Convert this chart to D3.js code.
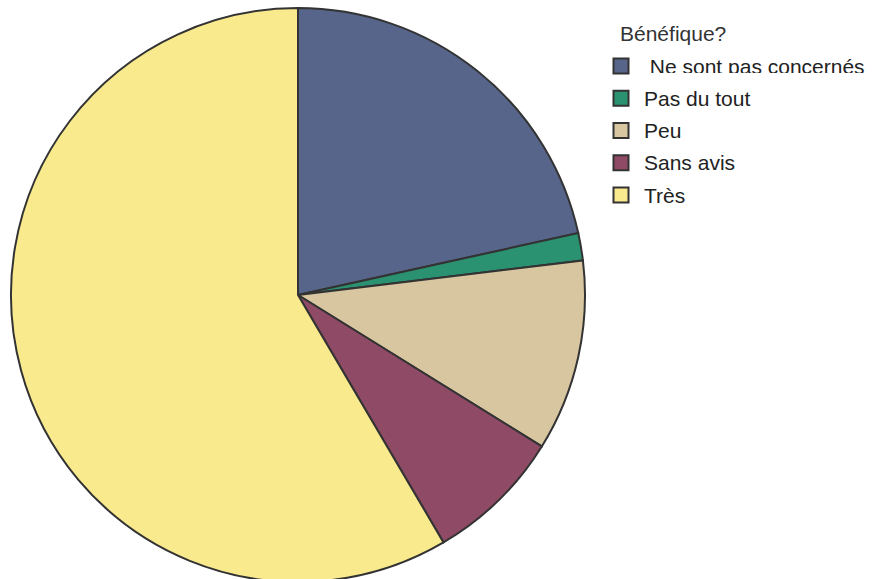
<!DOCTYPE html>
<html>
<head>
<meta charset="utf-8">
<script src="https://cdn.jsdelivr.net/npm/d3@7"></script>
<style>
  body { margin: 0; background: #fff; }
  text { font-family: "Liberation Sans", Arial, sans-serif; }
</style>
</head>
<body>
<div id="chart"></div>
<script>
// data
var categories = [" Ne sont pas concernés", "Pas du tout", "Peu", "Sans avis", "Très"];
var values = [14, 1, 7, 5, 38];
var colors = ["#566589", "#2a9171", "#d7c6a0", "#8f4a65", "#f9ea8d"];
var legendTitle = "Bénéfique?";

var w = 872, h = 579;
var cx = 298, cy = 295, r = 287;

var svg = d3.select("#chart").append("svg")
  .attr("width", w)
  .attr("height", h);

var pie = d3.pie().sort(null).value(function(d) { return d; });
var arc = d3.arc().innerRadius(0).outerRadius(r);

svg.append("g")
  .attr("transform", "translate(" + cx + "," + cy + ")")
  .selectAll("path")
  .data(pie(values))
  .enter()
  .append("path")
  .attr("d", arc)
  .attr("fill", function(d, i) { return colors[i]; })
  .attr("stroke", "#333")
  .attr("stroke-width", 2);

// legend
var legend = svg.append("g").attr("transform", "translate(613,0)");
legend.append("text")
  .attr("x", 7)
  .attr("y", 41)
  .attr("font-size", 21)
  .attr("fill", "#333")
  .text(legendTitle);

// the first label is cut off at the bottom in the original
svg.append("defs").append("clipPath").attr("id", "clip0")
  .append("rect").attr("x", 0).attr("y", -30).attr("width", 300).attr("height", 37);

var y = d3.scalePoint().domain(d3.range(categories.length)).range([66, 195]);

var item = legend.selectAll("g.item")
  .data(categories)
  .enter()
  .append("g")
  .attr("class", "item")
  .attr("transform", function(d, i) { return "translate(0," + y(i) + ")"; });

item.append("rect")
  .attr("x", 0.5)
  .attr("y", -7.5)
  .attr("width", 15)
  .attr("height", 15)
  .attr("fill", function(d, i) { return colors[i]; })
  .attr("stroke", "#333")
  .attr("stroke-width", 2);

item.append("text")
  .attr("x", 31)
  .attr("y", 7.5)
  .attr("font-size", 21)
  .attr("fill", "#222")
  .attr("clip-path", function(d, i) { return i === 0 ? "url(#clip0)" : null; })
  .style("white-space", "pre")
  .text(function(d) { return d; });
</script>
</body>
</html>
